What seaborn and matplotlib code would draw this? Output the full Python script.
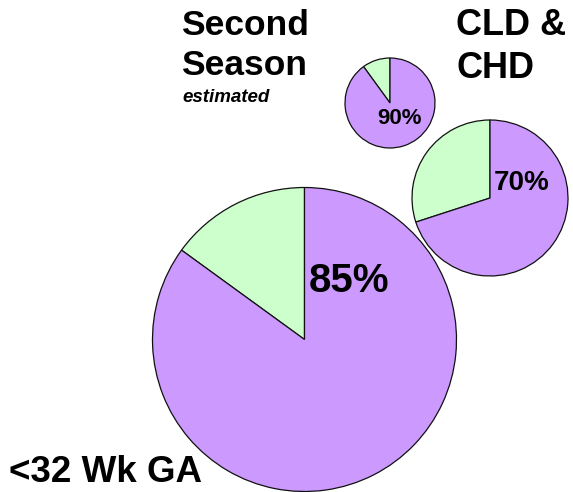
import matplotlib
matplotlib.use("Agg")
import matplotlib.pyplot as plt
import seaborn as sns

# Share of infants in each group (purple slice) vs. remainder (green slice)
groups = ["<32 Wk GA", "CLD & CHD", "Second Season"]
pct = [85, 70, 90]
pct_labels = ["85%", "70%", "90%"]

sns.set_theme(style="white")
plt.rcParams["font.family"] = ["Liberation Sans", "DejaVu Sans"]

purple = "#CC99FF"
green = "#CCFFCC"

W, H = 573, 492
fig = plt.figure(figsize=(W / 100, H / 100), dpi=100)
ax = fig.add_axes([0, 0, 1, 1])

# Pixel-based layout: pie centre, radius, label left/baseline and label size
layout = {
    "<32 Wk GA": dict(center=(304.5, 339.5), r=152, lab=(309, 292), fs=29),
    "CLD & CHD": dict(center=(490, 198), r=78, lab=(494, 190), fs=20),
    "Second Season": dict(center=(390, 103), r=45, lab=(377, 124), fs=16),
}

for g, p, lbl in zip(groups, pct, pct_labels):
    L = layout[g]
    cx, cy = L["center"]
    ax.pie([100 - p, p], colors=[green, purple], startangle=90,
           counterclock=True, radius=L["r"], center=(cx, H - cy),
           wedgeprops=dict(edgecolor="#111111", linewidth=0.9))
    lx, ly = L["lab"]
    ax.text(lx, H - ly, lbl, fontsize=L["fs"], fontweight="bold",
            ha="left", va="baseline", color="black")

# Group titles
title_kw = dict(fontweight="bold", ha="left", va="baseline", color="black")
ax.text(181, H - 35, "Second", fontsize=25.5, **title_kw)
ax.text(181, H - 75, "Season", fontsize=25.5, **title_kw)
ax.text(182, H - 102, "estimated", fontsize=13.5, fontstyle="italic", **title_kw)
ax.text(456, H - 35, "CLD &", fontsize=26, **title_kw)
ax.text(456, H - 78, "CHD", fontsize=26, **title_kw)
ax.text(9, H - 482, "<32 Wk GA", fontsize=26.5, **title_kw)

ax.set_xlim(0, W)
ax.set_ylim(0, H)
ax.set_aspect("equal")
ax.axis("off")

fig.savefig("out.png", dpi=100, facecolor="white")
